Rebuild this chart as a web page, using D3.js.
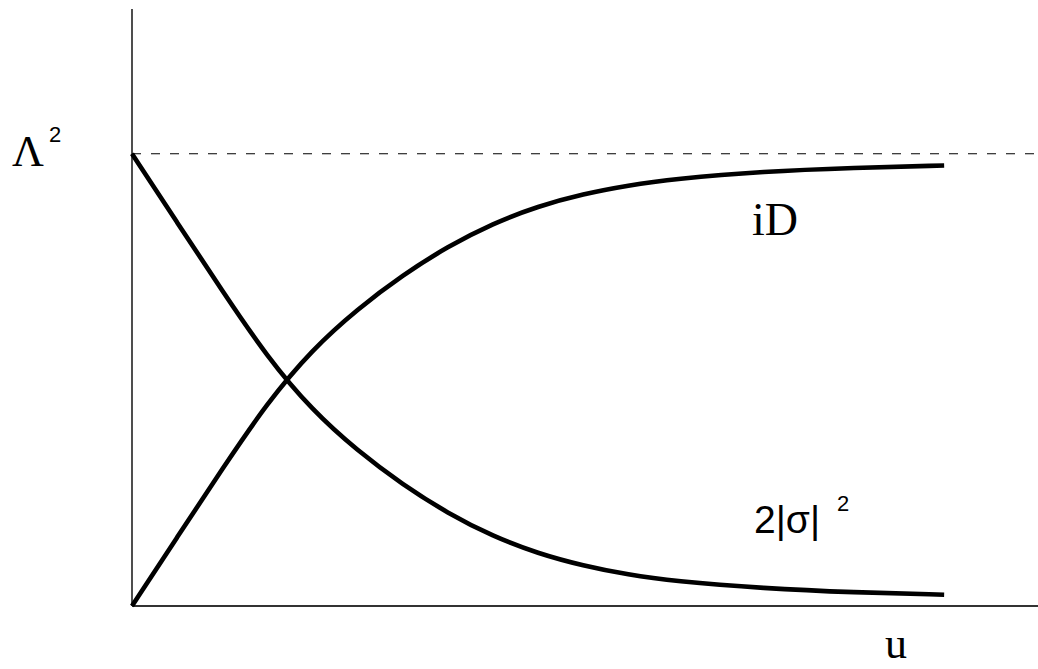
<!DOCTYPE html>
<html>
<head>
<meta charset="utf-8">
<script src="https://cdn.jsdelivr.net/npm/d3@7"></script>
<style>
  html, body { margin: 0; padding: 0; background: #fff; }
  svg { display: block; }
</style>
</head>
<body>
<script>
// Sample points along u for the two curves, in units of Λ²
const uValues     = [0, 0.25, 0.5, 0.75, 1.0, 1.25, 1.5, 1.75, 2.0, 2.25, 2.5, 2.75, 3.0, 3.5, 4.0, 4.5];
const iDValues    = [0, 0.152, 0.303, 0.450, 0.568, 0.657, 0.732, 0.795, 0.846, 0.884, 0.911, 0.930, 0.944, 0.961, 0.969, 0.974];
const sigmaValues = [1.0, 0.848, 0.697, 0.550, 0.432, 0.343, 0.268, 0.205, 0.154, 0.116, 0.089, 0.069, 0.055, 0.039, 0.030, 0.025];
const lambdaSquared = 1;   // asymptote level Λ²
const uMax = 5.02;         // extent of the u axis
const yMax = 1.32;         // extent of the vertical axis

const W = 1038, H = 669;
const svg = d3.select("body").append("svg").attr("width", W).attr("height", H);

const x = d3.scaleLinear().domain([0, uMax]).range([132, 1038]);
const y = d3.scaleLinear().domain([0, yMax]).range([606, 9]);

// axes
svg.append("line")
  .attr("x1", x(0)).attr("x2", x(0)).attr("y1", y(0)).attr("y2", y(yMax))
  .attr("stroke", "#222").attr("stroke-width", 1.6);
svg.append("line")
  .attr("x1", x(0)).attr("x2", x(uMax)).attr("y1", y(0)).attr("y2", y(0))
  .attr("stroke", "#333").attr("stroke-width", 1.8);

// dashed asymptote at Λ²
svg.append("line")
  .attr("x1", x(0)).attr("x2", x(uMax)).attr("y1", y(lambdaSquared)).attr("y2", y(lambdaSquared))
  .attr("stroke", "#000").attr("stroke-width", 1.1).attr("stroke-dasharray", "9,10");

const line = d3.line()
  .x(d => x(d[0]))
  .y(d => y(d[1]))
  .curve(d3.curveBasis);

const iDSeries = uValues.map((u, i) => [u, iDValues[i]]);
const sigmaSeries = uValues.map((u, i) => [u, sigmaValues[i]]);

[iDSeries, sigmaSeries].forEach(s => {
  svg.append("path")
    .datum(s)
    .attr("d", line)
    .attr("fill", "none")
    .attr("stroke", "#000")
    .attr("stroke-width", 4.6)
    .attr("stroke-linejoin", "round");
});

// labels
const serif = "'Liberation Serif', 'Times New Roman', serif";
const sans = "'Liberation Sans', Arial, sans-serif";

svg.append("text").attr("x", 12).attr("y", 166)
  .attr("font-family", serif).attr("font-size", 44).text("Λ");
svg.append("text").attr("x", 49).attr("y", 142)
  .attr("font-family", sans).attr("font-size", 22).text("2");

svg.append("text").attr("x", 752).attr("y", 235)
  .attr("font-family", serif).attr("font-size", 46).text("iD");

svg.append("text").attr("x", 754).attr("y", 533)
  .attr("font-family", sans).attr("font-size", 39).text("2|σ|");
svg.append("text").attr("x", 837).attr("y", 511)
  .attr("font-family", sans).attr("font-size", 22).text("2");

svg.append("text").attr("x", 885).attr("y", 658)
  .attr("font-family", serif).attr("font-size", 44).text("u");
</script>
</body>
</html>
